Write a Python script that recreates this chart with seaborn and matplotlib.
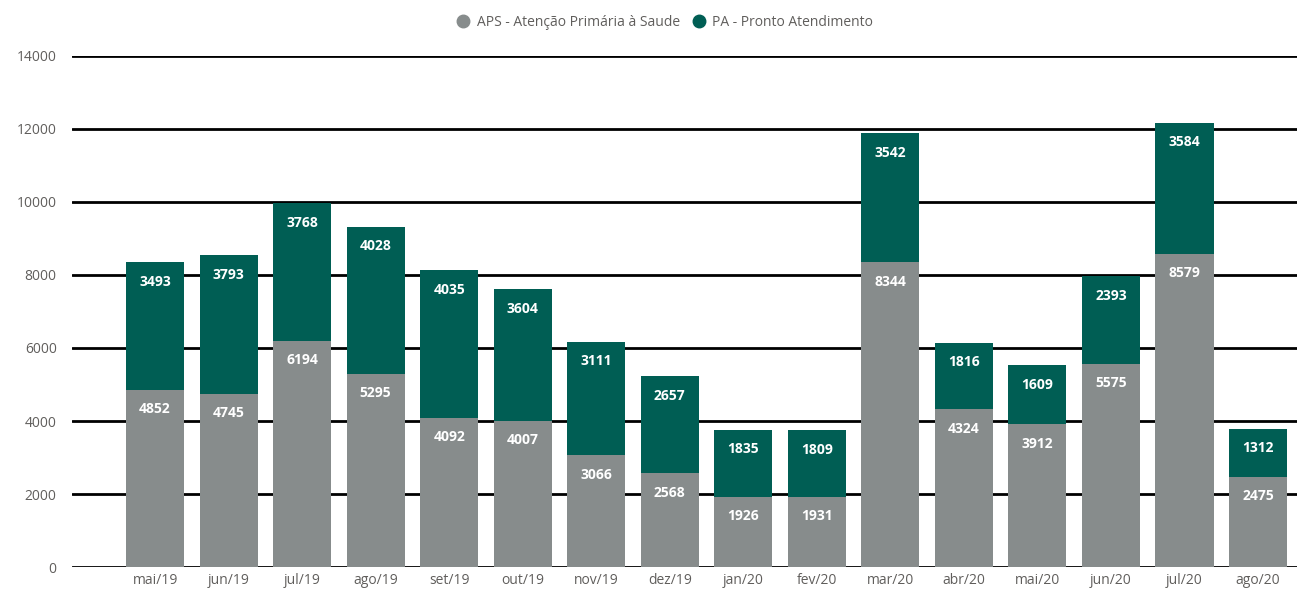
import matplotlib
matplotlib.use("Agg")
import matplotlib.pyplot as plt
from matplotlib.lines import Line2D
import seaborn as sns
import pandas as pd

meses = ["mai/19", "jun/19", "jul/19", "ago/19", "set/19", "out/19", "nov/19", "dez/19",
         "jan/20", "fev/20", "mar/20", "abr/20", "mai/20", "jun/20", "jul/20", "ago/20"]
aps = [4852, 4745, 6194, 5295, 4092, 4007, 3066, 2568, 1926, 1931, 8344, 4324, 3912, 5575, 8579, 2475]
pa = [3493, 3793, 3768, 4028, 4035, 3604, 3111, 2657, 1835, 1809, 3542, 1816, 1609, 2393, 3584, 1312]

cinza = "#878c8c"
verde = "#005e54"
texto = "#605e5c"

df = pd.DataFrame({"mes": meses, "aps": aps, "pa": pa})
df["total"] = df["aps"] + df["pa"]

sns.set_style("white")
plt.rcParams["font.family"] = ["Open Sans", "DejaVu Sans"]

fig = plt.figure(figsize=(12.97, 5.95), dpi=100)
ax = fig.add_axes([0.0555, 0.047, 0.9445, 0.859])

sns.barplot(data=df, x="mes", y="total", color=verde, width=0.79, saturation=1,
            linewidth=0, ax=ax, zorder=3)
sns.barplot(data=df, x="mes", y="aps", color=cinza, width=0.79, saturation=1,
            linewidth=0, ax=ax, zorder=3)

ax.set_ylim(0, 14000)
ax.set_xlim(-1.13, 15.53)
ax.set_yticks(range(0, 14001, 2000))
ax.yaxis.grid(True, color="black", linewidth=2, zorder=0)
ax.set_axisbelow(True)
for s in ax.spines.values():
    s.set_visible(False)
ax.set_xlabel("")
ax.set_ylabel("")
ax.tick_params(axis="both", length=0, colors=texto, labelsize=10)
ax.tick_params(axis="y", pad=11)
ax.tick_params(axis="x", pad=4)

for i, (a, p) in enumerate(zip(aps, pa)):
    ax.annotate(str(a), (i, a), xytext=(0, -14), textcoords="offset points",
                ha="center", va="center", color="white", fontsize=10, fontweight="bold",
                zorder=5)
    ax.annotate(str(p), (i, a + p), xytext=(0, -14), textcoords="offset points",
                ha="center", va="center", color="white", fontsize=10, fontweight="bold",
                zorder=5)

handles = [Line2D([], [], marker="o", linestyle="", markersize=9, color=cinza),
           Line2D([], [], marker="o", linestyle="", markersize=9, color=verde)]
fig.legend(handles, ["APS - Atenção Primária à Saude", "PA - Pronto Atendimento"],
           loc="center", bbox_to_anchor=(0.51, 0.962), ncol=2, frameon=False,
           fontsize=10, labelcolor=texto, handletextpad=0.0, columnspacing=0.3)

fig.savefig("out.png", dpi=100)
